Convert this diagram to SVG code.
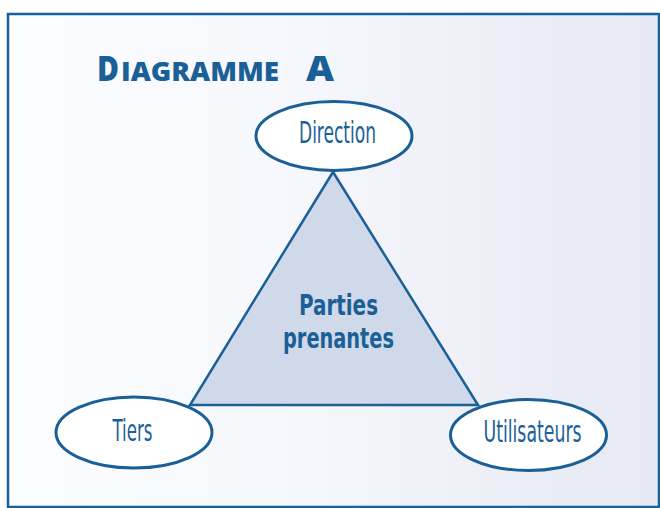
<svg xmlns="http://www.w3.org/2000/svg" width="660" height="508" viewBox="0 0 660 508">
  <defs>
    <linearGradient id="bg" x1="0" y1="0" x2="1" y2="0">
      <stop offset="0" stop-color="#fcfdff"/>
      <stop offset="0.45" stop-color="#f6f7fc"/>
      <stop offset="1" stop-color="#e6e8f3"/>
    </linearGradient>
    <style>
      .frame { fill: url(#bg); stroke: #1b5f97; stroke-width: 2.5; }
      .node { fill: #ffffff; stroke: #1b5f97; stroke-width: 3; }
      .tri { fill: #d0d9e9; stroke: #1b5f97; stroke-width: 2.5; stroke-linejoin: miter; }
      .lbl { font-family: "DejaVu Sans Condensed", "Liberation Sans", sans-serif; font-size: 30px; fill: #1b5f97; }
      .center { font-family: "DejaVu Sans Condensed", "Liberation Sans", sans-serif; font-weight: bold; font-size: 28px; fill: #1b5f97; }
      .title { font-family: "Open Sans", "Liberation Sans", sans-serif; font-weight: 800; fill: #1b5f97; }
    </style>
  </defs>

  <!-- outer panel -->
  <rect class="frame" x="8" y="14" width="651" height="493"/>

  <!-- heading -->
  <text class="title" y="81">
    <tspan x="97" font-size="36" textLength="22" lengthAdjust="spacingAndGlyphs">D</tspan><tspan x="121" font-size="26" textLength="158" lengthAdjust="spacingAndGlyphs">IAGRAMME</tspan><tspan x="306" font-size="36" textLength="28" lengthAdjust="spacingAndGlyphs">A</tspan>
  </text>

  <!-- connectors: the triangle linking the three parties -->
  <g id="connectors">
    <polygon class="tri" points="333,172 190,405 478,405"/>
    <text class="center" x="338.5" y="314.5" text-anchor="middle" textLength="79" lengthAdjust="spacingAndGlyphs">Parties</text>
    <text class="center" x="338.5" y="348" text-anchor="middle" textLength="111" lengthAdjust="spacingAndGlyphs">prenantes</text>
  </g>

  <g id="direction">
    <ellipse class="node" cx="334" cy="136" rx="78" ry="34.5"/>
    <text class="lbl" x="337.5" y="143" text-anchor="middle" textLength="77" lengthAdjust="spacingAndGlyphs">Direction</text>
  </g>

  <g id="tiers">
    <ellipse class="node" cx="134" cy="432.5" rx="78" ry="35.5"/>
    <text class="lbl" x="132.5" y="441" text-anchor="middle" textLength="40" lengthAdjust="spacingAndGlyphs">Tiers</text>
  </g>

  <g id="utilisateurs">
    <ellipse class="node" cx="528.5" cy="435" rx="78" ry="35.5"/>
    <text class="lbl" x="532.5" y="442" text-anchor="middle" textLength="98" lengthAdjust="spacingAndGlyphs">Utilisateurs</text>
  </g>
</svg>
